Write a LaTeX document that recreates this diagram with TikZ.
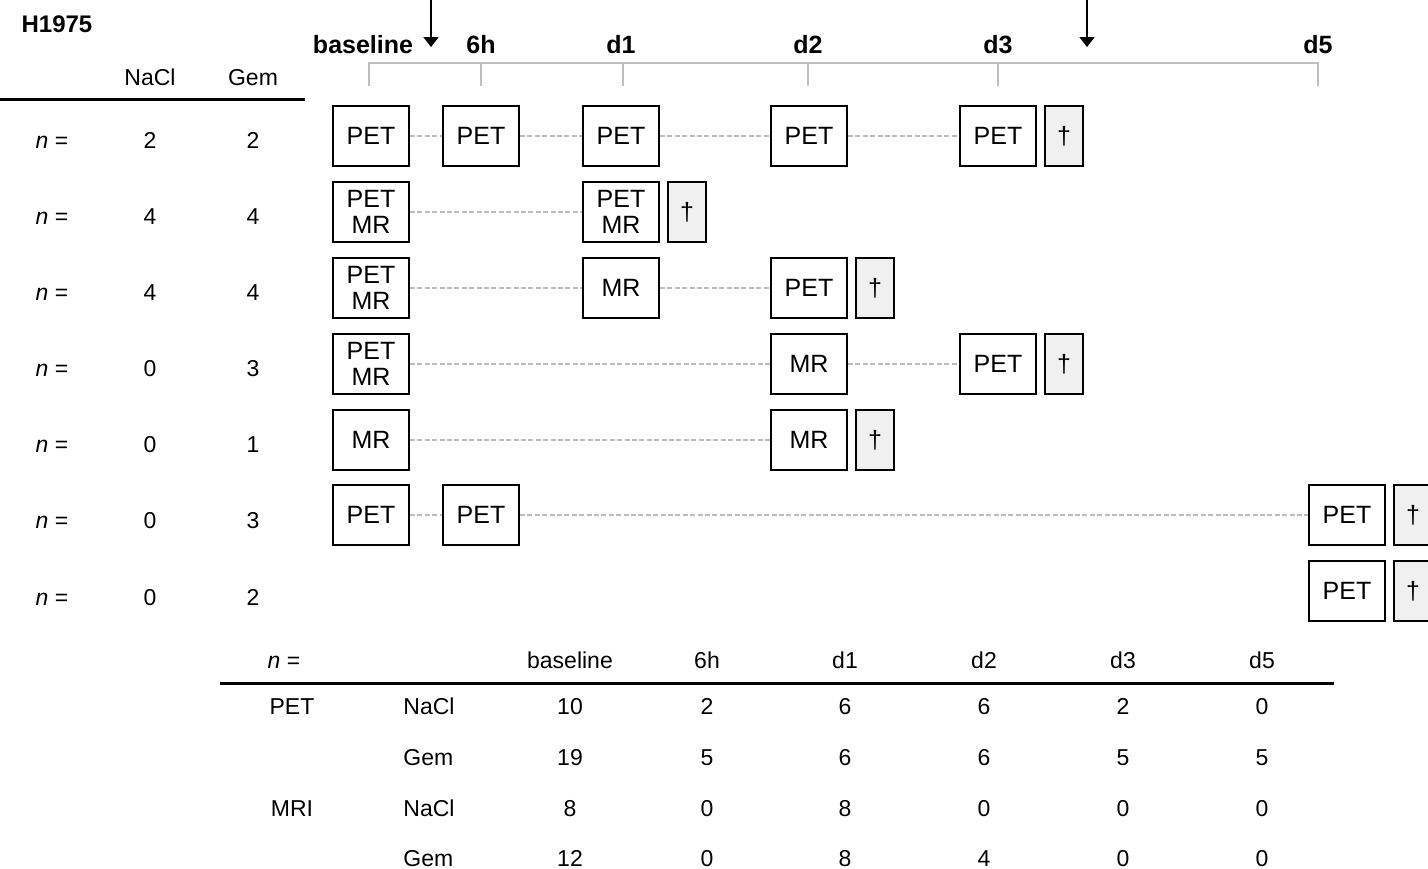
\documentclass[tikz,border=0pt]{standalone}
\usepackage{fontspec}
\setmainfont{Liberation Sans}
\usetikzlibrary{positioning, arrows.meta}

\definecolor{deadgray}{HTML}{F0F0F0}
\definecolor{linkgray}{HTML}{BDBDBD}
\definecolor{axisgray}{HTML}{BFBFBF}

\tikzset{
  scan/.style={draw, line width=1pt, minimum width=38pt, minimum height=30pt,
    inner sep=0pt, align=center, font=\fontsize{12.5}{13}\selectfont},
  dead/.style={draw, fill=deadgray, line width=1pt, minimum width=19pt,
    minimum height=30pt, inner sep=0pt, font=\fontsize{12.5}{13}\selectfont},
  link/.style={draw=linkgray, line width=0.6pt, dash pattern=on 2.5pt off 1.2pt},
  daylab/.style={anchor=base, font=\bfseries\fontsize{12.5}{14}\selectfont},
  cell/.style={anchor=base, inner sep=0pt, font=\fontsize{11.5}{13}\selectfont},
  rule/.style={line width=1.5pt},
  inject/.style={line width=1pt, -{Triangle[width=7.5pt,length=5pt]}}
}

\begin{document}
\begin{tikzpicture}[x=0.5pt, y=-0.5pt]
  \useasboundingbox (0,0) rectangle (1428,868);

  % cell line and time axis
  \node[anchor=center, font=\bfseries\fontsize{12}{14}\selectfont] (title) at (57,24) {H1975};
  \node[daylab] (tb) at (363,53) {baseline};
  \node[daylab] (th) at (481,53) {6h};
  \node[daylab] (t1) at (621,53) {d1};
  \node[daylab] (t2) at (808,53) {d2};
  \node[daylab] (t3) at (998,53) {d3};
  \node[daylab] (t5) at (1318,53) {d5};
  \draw[axisgray, line width=1pt] (369,86) -- (369,63) -- (1318,63) -- (1318,86);
  \foreach \x in {481,623,808,998}
    \draw[axisgray, line width=1pt] (\x,63) -- (\x,86);

  % gemcitabine injections
  \coordinate (inj1top) at (431,0);
  \coordinate (inj1end) at (431,47);
  \coordinate (inj2top) at (1087,0);
  \coordinate (inj2end) at (1087,47);
  \draw[inject] (inj1top) -- (inj1end);
  \draw[inject] (inj2top) -- (inj2end);

  % group sizes
  \node[cell] (hnacl) at (150,85) {NaCl};
  \node[cell] (hgem) at (253,85) {Gem};
  \coordinate (ruleL) at (0,99);
  \coordinate (ruleR) at (305,99);
  \draw[rule] (ruleL) -- (ruleR);
  \foreach \y/\a/\b [count=\i] in {148/2/2, 224/4/4, 300/4/4, 376/0/3, 452/0/1, 528/0/3, 605/0/2} {
    \node[cell] (n\i) at (52,\y) {\textit{n} =};
    \node[cell] (na\i) at (150,\y) {\a};
    \node[cell] (ge\i) at (253,\y) {\b};
  }

  % row 1
  \node[scan] (r1a) at (371,136) {PET};
  \node[scan] (r1b) at (481,136) {PET};
  \node[scan] (r1c) at (621,136) {PET};
  \node[scan] (r1d) at (809,136) {PET};
  \node[scan] (r1e) at (998,136) {PET};
  \node[dead] (r1x) [right=3.5pt of r1e] {\textdagger};
  \path[link] (r1a) -- (r1b) (r1b) -- (r1c) (r1c) -- (r1d) (r1d) -- (r1e);

  % row 2
  \node[scan] (r2a) at (371,212) {PET\\MR};
  \node[scan] (r2b) at (621,212) {PET\\MR};
  \node[dead] (r2x) [right=3.5pt of r2b] {\textdagger};
  \path[link] (r2a) -- (r2b);

  % row 3
  \node[scan] (r3a) at (371,288) {PET\\MR};
  \node[scan] (r3b) at (621,288) {MR};
  \node[scan] (r3c) at (809,288) {PET};
  \node[dead] (r3x) [right=3.5pt of r3c] {\textdagger};
  \path[link] (r3a) -- (r3b) (r3b) -- (r3c);

  % row 4
  \node[scan] (r4a) at (371,364) {PET\\MR};
  \node[scan] (r4b) at (809,364) {MR};
  \node[scan] (r4c) at (998,364) {PET};
  \node[dead] (r4x) [right=3.5pt of r4c] {\textdagger};
  \path[link] (r4a) -- (r4b) (r4b) -- (r4c);

  % row 5
  \node[scan] (r5a) at (371,440) {MR};
  \node[scan] (r5b) at (809,440) {MR};
  \node[dead] (r5x) [right=3.5pt of r5b] {\textdagger};
  \path[link] (r5a) -- (r5b);

  % row 6
  \node[scan] (r6a) at (371,515) {PET};
  \node[scan] (r6b) at (481,515) {PET};
  \node[scan] (r6c) at (1347,515) {PET};
  \node[dead] (r6x) [right=3.5pt of r6c] {\textdagger};
  \path[link] (r6a) -- (r6b) (r6b) -- (r6c);

  % row 7
  \node[scan] (r7a) at (1347,591) {PET};
  \node[dead] (r7x) [right=3.5pt of r7a] {\textdagger};

  % scan totals
  \node[cell] (sn) at (284,668) {\textit{n} =};
  \foreach \x/\t [count=\j] in {570/baseline, 707/6h, 845/d1, 984/d2, 1123/d3, 1262/d5}
    \node[cell] (sh\j) at (\x,668) {\t};
  \coordinate (sruleL) at (220,683);
  \coordinate (sruleR) at (1334,683);
  \draw[rule] (sruleL) -- (sruleR);
  \node[cell] (spet) at (292,714) {PET};
  \node[cell] (smri) at (292,816) {MRI};
  \foreach \y/\g/\a/\b/\c/\d/\e/\f [count=\k] in {
      714/NaCl/10/2/6/6/2/0, 765/Gem/19/5/6/6/5/5,
      816/NaCl/8/0/8/0/0/0, 866/Gem/12/0/8/4/0/0} {
    \node[cell, anchor=base west] (sg\k) at (403,\y) {\g};
    \node[cell] (sa\k) at (570,\y) {\a};
    \node[cell] (sb\k) at (707,\y) {\b};
    \node[cell] (sc\k) at (845,\y) {\c};
    \node[cell] (sd\k) at (984,\y) {\d};
    \node[cell] (se\k) at (1123,\y) {\e};
    \node[cell] (sf\k) at (1262,\y) {\f};
  }
\end{tikzpicture}
\end{document}
